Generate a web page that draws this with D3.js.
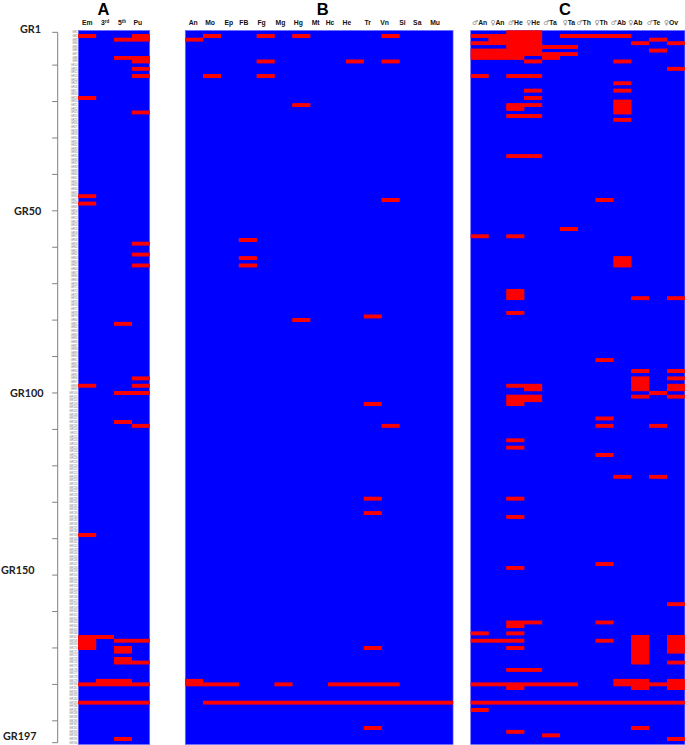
<!DOCTYPE html>
<html>
<head>
<meta charset="utf-8">
<style>
html, body { margin: 0; padding: 0; background: #fff; overflow: hidden; }
text { font-family: "Liberation Sans", Arial, sans-serif; }
</style>
<script src="https://cdn.jsdelivr.net/npm/d3@7"></script>
</head>
<body>
<div id="chart"></div>
<script>
// column names per panel
var titles = ["A", "B", "C"];
var categoriesA = ["Em", "3rd", "5th", "Pu"];
var categoriesB = ["An", "Mo", "Ep", "FB", "Fg", "Mg", "Hg", "Mt", "Hc", "He", "Tr", "Vn", "Si", "Sa", "Mu"];
var categoriesC = ["♂An", "♀An", "♂He", "♀He", "♂Ta", "♀Ta", "♂Th", "♀Th", "♂Ab", "♀Ab", "♂Te", "♀Ov"];

// GR numbers that are red, one list per column
var hitsA = [
    [2, 19, 46, 48, 98, 139, 167, 168, 169, 170, 180, 185],
    [167, 179, 180, 185],
    [3, 8, 81, 100, 108, 168, 170, 171, 173, 174, 179, 180, 185, 195],
    [2, 3, 8, 9, 11, 13, 23, 59, 62, 65, 96, 98, 100, 109, 168, 174, 180, 185]
];
var hitsB = [
    [3, 179, 180],
    [2, 13, 180, 185],
    [180, 185],
    [58, 63, 65, 185],
    [2, 9, 13, 185],
    [180, 185],
    [2, 21, 80, 185],
    [185],
    [180, 185],
    [9, 180, 185],
    [79, 103, 129, 133, 170, 180, 185, 192],
    [2, 9, 47, 109, 180, 185],
    [185],
    [185],
    [185]
];
var hitsC = [
    [2, 4, 6, 7, 8, 13, 57, 166, 168, 180, 185, 187],
    [2, 3, 4, 6, 7, 8, 168, 180, 185],
    [1, 2, 3, 4, 5, 6, 7, 8, 13, 21, 22, 24, 35, 57, 72, 73, 74, 78, 98, 101, 102, 103, 113, 115, 129, 134, 148, 163, 164, 166, 168, 170, 176, 180, 181, 185, 193],
    [1, 2, 3, 4, 5, 6, 7, 9, 13, 17, 19, 21, 24, 35, 98, 99, 101, 102, 163, 176, 180, 185],
    [5, 7, 8, 180, 185, 194],
    [2, 5, 7, 55, 180, 185],
    [2, 185],
    [2, 47, 91, 107, 109, 117, 147, 163, 168, 185],
    [2, 9, 15, 17, 20, 21, 22, 23, 25, 63, 64, 65, 123, 179, 180, 185],
    [4, 74, 94, 96, 97, 98, 99, 101, 167, 168, 169, 170, 171, 172, 173, 174, 179, 180, 181, 185, 192],
    [3, 6, 100, 109, 123, 180, 185],
    [4, 11, 74, 94, 96, 98, 99, 101, 158, 167, 168, 169, 170, 171, 174, 179, 180, 181, 185, 195]
];

// ruler on the left
var rulerTicks = [1, 10, 20, 30, 40, 50, 60, 70, 80, 90, 100, 110, 120, 130, 140, 150, 160, 170, 180, 190, 196];
var groupLabels = ["GR1", "GR50", "GR100", "GR150", "GR197"];
var groupRows = [1, 50, 100, 150, 196];

var width = 685, height = 745;
var plotTop = 30.5, plotBottom = 744.5, colW = 17.85;

// hand placement of the header labels, they do not sit centred in the source
var labelNudgeA = [0, 0, -1, -3];
var labelNudgeB = [-1, -2, -1, -4, -4, -3, -3, -3.5, -7, -8, -5, -6, -6, -9, -9];
var labelNudgeC = [0, 0, 0, 0, -1, 0, -3, -3.5, -4, -5, -4.5, -5];
var groupLabelX = [20, 14, 10, 1, 3];
var groupLabelDy = [-3, 0, 0, -5, -6];

var panels = [
    {title: titles[0], names: categoriesA, hits: hitsA, left: 78.3, nudge: labelNudgeA, titleX: 103.5},
    {title: titles[1], names: categoriesB, hits: hitsB, left: 185.3, nudge: labelNudgeB, titleX: 322.7},
    {title: titles[2], names: categoriesC, hits: hitsC, left: 470.7, nudge: labelNudgeC, titleX: 565}
];

var svg = d3.select("#chart")
    .append("svg")
        .attr("width", width)
        .attr("height", height)
        .style("display", "block");

// the source is a slightly soft raster. Alpha boost closes the seams between
// neighbouring cells, the small blur gets the same crimson bar edges
var soft = svg.append("defs").append("filter")
    .attr("id", "soft")
    .attr("x", "-5%").attr("y", "-5%").attr("width", "110%").attr("height", "110%");
soft.append("feComponentTransfer")
    .append("feFuncA")
    .attr("type", "linear")
    .attr("slope", 1.4);
soft.append("feGaussianBlur")
    .attr("stdDeviation", 0.4);

var rows = d3.range(1, 197);
var y = d3.scaleBand().domain(rows).range([plotTop, plotBottom]);
var rowMid = function(r) { return y(r) + y.bandwidth() / 2; };

// ruler
var ruler = svg.append("g")
    .attr("class", "ruler")
    .attr("transform", "translate(57.7,0)")
    .call(d3.axisLeft(y).tickValues(rulerTicks).tickFormat("").tickSize(5.5));
ruler.select(".domain").remove();
ruler.selectAll(".tick line").attr("stroke", "#808080").attr("stroke-width", 1);
ruler.append("line")
    .attr("y1", rowMid(1))
    .attr("y2", rowMid(196))
    .attr("stroke", "#808080")
    .attr("stroke-width", 1);

// big GR labels
svg.selectAll("text.group")
    .data(groupLabels)
  .enter().append("text")
    .attr("class", "group")
    .attr("x", function(d, i) { return groupLabelX[i]; })
    .attr("y", function(d, i) { return rowMid(groupRows[i]) + groupLabelDy[i]; })
    .attr("dy", "0.35em")
    .style("font-family", "Lato, 'Open Sans', sans-serif")
    .style("font-weight", "bold")
    .style("font-size", "10.8px")
    .style("fill", "#222")
    .text(function(d) { return d; });

// tiny row labels beside panel A
svg.selectAll("text.rowlabel")
    .data(rows)
  .enter().append("text")
    .attr("class", "rowlabel")
    .attr("x", 77.5)
    .attr("y", function(d) { return rowMid(d); })
    .attr("dy", "0.35em")
    .attr("text-anchor", "end")
    .style("font-size", "2.6px")
    .style("fill", "#777")
    .text(function(d) { return "GR" + d; });

panels.forEach(function(p) {
    var x = d3.scaleBand()
        .domain(p.names)
        .range([p.left, p.left + colW * p.names.length]);

    svg.append("rect")
        .attr("x", x.range()[0])
        .attr("y", plotTop)
        .attr("width", x.range()[1] - x.range()[0])
        .attr("height", plotBottom - plotTop)
        .attr("fill", "#0000ff")
        .attr("stroke", "#6a6aff")
        .attr("stroke-width", 0.7);

    // flatten to one rect per red cell
    var cells = [];
    p.hits.forEach(function(list, i) {
        list.forEach(function(r) { cells.push({name: p.names[i], row: r}); });
    });

    svg.append("g")
        .attr("filter", "url(#soft)")
      .selectAll("rect")
        .data(cells)
      .enter().append("rect")
        .attr("x", function(d) { return x(d.name); })
        .attr("y", function(d) { return y(d.row); })
        .attr("width", x.bandwidth())
        .attr("height", y.bandwidth())
        .attr("fill", "#ff0000");

    svg.append("text")
        .attr("x", p.titleX)
        .attr("y", 15)
        .attr("text-anchor", "middle")
        .style("font-weight", "bold")
        .style("font-size", "16.5px")
        .style("fill", "#000")
        .text(p.title);

    // column headers
    var head = svg.selectAll(null)
        .data(p.names)
      .enter().append("text")
        .attr("x", function(d, i) { return x(d) + x.bandwidth() / 2 + p.nudge[i]; })
        .attr("y", 25)
        .attr("text-anchor", "middle")
        .style("font-weight", "bold")
        .style("font-size", "6.8px")
        .style("fill", "#111");

    head.each(function(d) {
        var t = d3.select(this);
        var first = d.charAt(0);
        if (first === "♂" || first === "♀") {
            t.append("tspan")
                .style("font-family", "'DejaVu Sans'")
                .style("font-weight", "normal")
                .style("fill", "#888")
                .text(first);
            t.append("tspan").text(d.slice(1));
        } else if (d === "3rd" || d === "5th") {
            t.append("tspan").text(d.charAt(0));
            t.append("tspan")
                .attr("dy", -2)
                .style("font-size", "4.5px")
                .text(d.slice(1));
        } else {
            t.text(d);
        }
    });
});
</script>
</body>
</html>
